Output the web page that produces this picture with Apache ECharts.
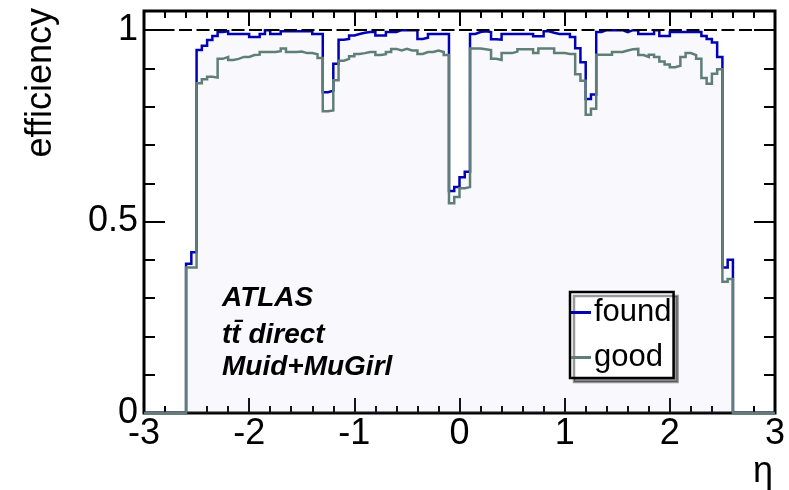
<!DOCTYPE html>
<html>
<head>
<meta charset="utf-8">
<script src="https://cdn.jsdelivr.net/npm/echarts@6/dist/echarts.min.js"></script>
<style>
  html, body { margin: 0; padding: 0; background: #fff; }
  #chart { width: 789px; height: 490px; }
</style>
</head>
<body>
<div id="chart"></div>
<script>
// Muon reconstruction efficiency versus eta, histogram bins of 0.05 from -2.6 to 2.6
const etaLow = -2.6;
const binWidth = 0.05;

// "found" efficiency per bin
const found = [
  0.39, 0.42, 0.948, 0.959, 0.974, 0.985, 0.995, 0.997, 0.99, 0.99,
  0.99, 0.99, 0.982, 0.982, 0.99, 1.0, 0.99, 0.99, 0.997, 0.997,
  0.997, 0.997, 0.997, 0.997, 0.99, 0.99, 0.838, 0.842, 0.912, 0.975,
  0.977, 0.986, 0.99, 0.993, 0.995, 0.995, 0.986, 0.986, 0.995, 0.995,
  1.0, 1.0, 1.0, 1.0, 0.977, 0.98, 0.99, 0.99, 0.99, 0.99,
  0.58, 0.59, 0.616, 0.63, 0.99, 0.995, 0.997, 0.995, 0.976, 0.975,
  0.99, 0.99, 0.99, 0.99, 0.99, 0.99, 0.984, 0.984, 0.997, 0.993,
  0.99, 0.99, 0.99, 0.982, 0.953, 0.916, 0.82, 0.832, 0.995, 1.0,
  1.0, 1.0, 1.0, 0.995, 1.0, 1.0, 0.99, 0.99, 0.99, 1.0,
  0.985, 0.985, 0.995, 0.995, 0.995, 0.995, 0.995, 0.995, 0.985, 0.977,
  0.968, 0.93, 0.38, 0.40
];

// "good" efficiency per bin
const good = [
  0.38, 0.38, 0.861, 0.872, 0.878, 0.876, 0.925, 0.93, 0.922, 0.925,
  0.93, 0.93, 0.935, 0.936, 0.943, 0.943, 0.943, 0.945, 0.952, 0.943,
  0.943, 0.944, 0.94, 0.94, 0.937, 0.927, 0.788, 0.79, 0.869, 0.92,
  0.925, 0.932, 0.938, 0.94, 0.943, 0.943, 0.935, 0.937, 0.943, 0.951,
  0.947, 0.951, 0.947, 0.947, 0.938, 0.943, 0.943, 0.947, 0.943, 0.935,
  0.548, 0.564, 0.587, 0.59, 0.952, 0.952, 0.95, 0.948, 0.925, 0.922,
  0.94, 0.94, 0.944, 0.95, 0.95, 0.95, 0.94, 0.952, 0.952, 0.952,
  0.94, 0.94, 0.938, 0.938, 0.885, 0.868, 0.779, 0.795, 0.936, 0.936,
  0.936, 0.943, 0.943, 0.947, 0.95, 0.951, 0.935, 0.93, 0.936, 0.93,
  0.918, 0.91, 0.903, 0.907, 0.93, 0.94, 0.935, 0.925, 0.875, 0.86,
  0.886, 0.898, 0.343, 0.35
];

const seriesNames = ['found', 'good'];
const yLabelValues = [0, 0.5, 1];
const annotationLines = ['ATLAS', 't\u0074\u0304 direct', 'Muid+MuGirl'];

const FONT = 'Liberation Sans';
const BLUE = '#0000b4';
const GREEN = '#5f7f76';

// Step points along the full axis range: empty bins outside the acceptance are zero
function histPoints(vals) {
  const pts = [[-3, 0]];
  vals.forEach((v, i) => pts.push([+(etaLow + i * binWidth).toFixed(2), v]));
  pts.push([+(etaLow + vals.length * binWidth).toFixed(2), 0]);
  pts.push([3, 0]);
  return pts;
}

function xAxisCfg(position, showLabels) {
  return {
    type: 'value', position: position, min: -3, max: 3, interval: 1,
    axisLine: { show: false, onZero: false },
    axisTick: { show: true, inside: true, length: 15, lineStyle: { color: '#000', width: 2 } },
    minorTick: { show: true, splitNumber: 5, length: 7, lineStyle: { color: '#000', width: 2 } },
    splitLine: { show: false },
    minorSplitLine: { show: false },
    axisLabel: { show: showLabels, fontSize: 36, fontFamily: FONT, color: '#000', margin: 3 }
  };
}

function yAxisCfg(position, interval, len, showLabels) {
  return {
    type: 'value', position: position, min: 0, max: 1.05, interval: interval,
    axisLine: { show: false, onZero: false },
    axisTick: { show: true, inside: true, length: len, lineStyle: { color: '#000', width: 2 } },
    splitLine: { show: false },
    axisLabel: {
      show: showLabels, fontSize: 36, fontFamily: FONT, color: '#000', margin: 6,
      formatter: function (v) {
        const r = +v.toFixed(2);
        return yLabelValues.indexOf(r) >= 0 ? String(r) : '';
      }
    }
  };
}

const chart = echarts.init(document.getElementById('chart'), null, { renderer: 'canvas' });

const annotationY = [298, 335, 367];

chart.setOption({
  animation: false,
  backgroundColor: '#fff',
  textStyle: { fontFamily: FONT },
  grid: {
    left: 144, right: 14, top: 11, bottom: 77,
    show: true, borderColor: '#000', borderWidth: 3, backgroundColor: 'transparent'
  },
  xAxis: [xAxisCfg('bottom', true), xAxisCfg('top', false)],
  yAxis: [
    yAxisCfg('left', 0.5, 21, true),
    yAxisCfg('left', 0.1, 11, false),
    yAxisCfg('right', 0.5, 21, false),
    yAxisCfg('right', 0.1, 11, false)
  ],
  legend: {
    data: seriesNames,
    orient: 'vertical',
    left: 570, top: 292,
    padding: [5, 2, 5, 1],
    itemGap: 14,
    itemWidth: 20, itemHeight: 3,
    icon: 'rect',
    backgroundColor: '#fff',
    borderColor: '#000', borderWidth: 2.5, borderRadius: 0,
    shadowColor: 'rgba(0,0,0,0.4)', shadowBlur: 0, shadowOffsetX: 4, shadowOffsetY: 4,
    selectedMode: false,
    textStyle: { fontSize: 31, fontFamily: FONT, color: '#000', padding: [0, 0, 0, -2] }
  },
  graphic: [
    {
      type: 'text', x: 41, y: 8, rotation: Math.PI / 2,
      style: { text: 'efficiency', fontSize: 36, fontFamily: FONT, fill: '#000',
               align: 'right', verticalAlign: 'middle', textAlign: 'right', textVerticalAlign: 'middle' }
    },
    {
      type: 'text', x: 763, y: 472,
      style: { text: '\u03b7', fontSize: 36, fontFamily: FONT, fill: '#000',
               align: 'center', verticalAlign: 'middle', textAlign: 'center', textVerticalAlign: 'middle' }
    }
  ].concat(annotationLines.map((t, i) => ({
    type: 'text', x: 222, y: annotationY[i], z: 10,
    style: { text: t, fontSize: 28, fontWeight: 'bold', fontStyle: 'italic', fontFamily: FONT, fill: '#000',
             align: 'left', verticalAlign: 'middle', textAlign: 'left', textVerticalAlign: 'middle' }
  }))),
  series: [
    {
      name: seriesNames[0], type: 'line', step: 'end',
      data: histPoints(found),
      xAxisIndex: 0, yAxisIndex: 0,
      symbol: 'none', showSymbol: false,
      lineStyle: { color: BLUE, width: 2.5, cap: 'butt', join: 'miter' },
      itemStyle: { color: BLUE },
      areaStyle: { color: 'rgba(190,190,235,0.15)' },
      z: 2
    },
    {
      name: seriesNames[1], type: 'line', step: 'end',
      data: histPoints(good),
      xAxisIndex: 0, yAxisIndex: 0,
      symbol: 'none', showSymbol: false,
      lineStyle: { color: GREEN, width: 2.5, cap: 'butt', join: 'miter' },
      itemStyle: { color: GREEN },
      z: 3,
      markLine: {
        silent: true,
        symbol: ['none', 'none'],
        label: { show: false },
        lineStyle: { color: '#000', type: [13, 4.5], width: 2 },
        data: [{ yAxis: 1 }]
      }
    }
  ]
});
</script>
</body>
</html>
